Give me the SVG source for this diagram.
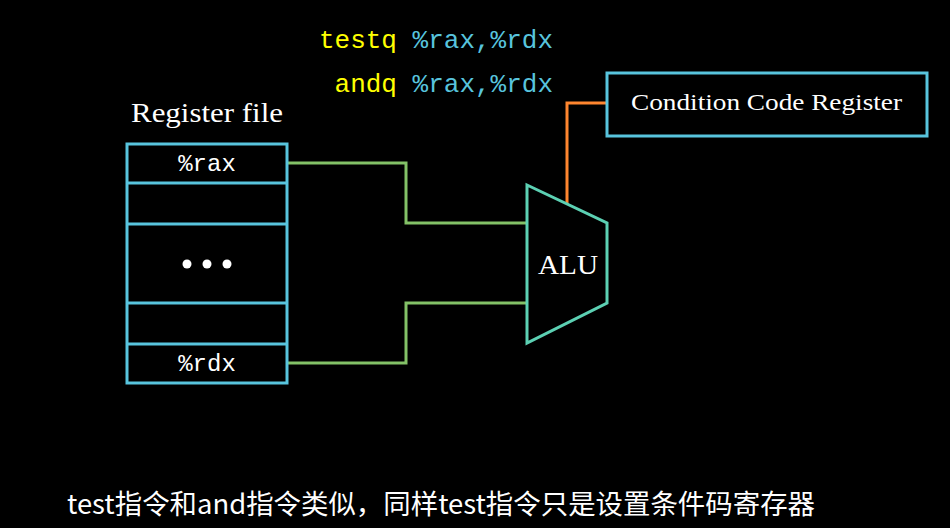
<svg xmlns="http://www.w3.org/2000/svg" width="950" height="528" viewBox="0 0 950 528">
<style>
.box{fill:none;stroke:#58C4DD;stroke-width:3}
.serif{font-family:"Liberation Serif","DejaVu Serif",serif;fill:#fff}
.mono{font-family:"Liberation Mono","DejaVu Sans Mono",monospace}
.wire{fill:none;stroke:#83C167;stroke-width:3}
</style>
<rect width="950" height="528" fill="#000"/>
<g id="code">
<text class="mono" x="553" y="48" font-size="26" text-anchor="end"><tspan fill="#FFFF00">testq</tspan><tspan fill="#58C4DD"> %rax,%rdx</tspan></text>
<text class="mono" x="553" y="92" font-size="26" text-anchor="end"><tspan fill="#FFFF00">andq</tspan><tspan fill="#58C4DD"> %rax,%rdx</tspan></text>
</g>
<g id="connectors">
<polyline class="wire" points="287,163 406,163 406,223 527,223"/>
<polyline class="wire" points="287,363 406,363 406,303 527,303"/>
<polyline fill="none" stroke="#FF862F" stroke-width="3" points="567,204 567,103 607,103"/>
</g>
<g id="register-file">
<text class="serif" x="131" y="122" font-size="27" textLength="152" lengthAdjust="spacingAndGlyphs">Register file</text>
<rect class="box" x="127" y="144" width="160" height="239"/>
<line class="box" x1="127" y1="183" x2="287" y2="183"/>
<line class="box" x1="127" y1="224" x2="287" y2="224"/>
<line class="box" x1="127" y1="303" x2="287" y2="303"/>
<line class="box" x1="127" y1="344" x2="287" y2="344"/>
<text class="mono" x="207" y="171" font-size="24" fill="#fff" text-anchor="middle">%rax</text>
<circle cx="187" cy="264" r="4.5" fill="#fff"/>
<circle cx="207" cy="264" r="4.5" fill="#fff"/>
<circle cx="227" cy="264" r="4.5" fill="#fff"/>
<text class="mono" x="207" y="371" font-size="24" fill="#fff" text-anchor="middle">%rdx</text>
</g>
<g id="alu">
<polygon points="527,185 607,223 607,303 527,343" fill="none" stroke="#5CD0B3" stroke-width="3"/>
<text class="serif" x="538" y="274" font-size="28" textLength="60" lengthAdjust="spacingAndGlyphs">ALU</text>
</g>
<g id="ccr">
<rect class="box" x="607" y="73" width="320" height="63"/>
<text class="serif" x="631" y="110" font-size="24" textLength="271" lengthAdjust="spacingAndGlyphs">Condition Code Register</text>
</g>
<g id="caption">
<text x="441" y="514" font-size="27" fill="#fff" text-anchor="middle" font-family="'Noto Sans CJK SC','Noto Sans',sans-serif" textLength="748" lengthAdjust="spacingAndGlyphs">test指令和and指令类似，同样test指令只是设置条件码寄存器</text>
</g>
</svg>
